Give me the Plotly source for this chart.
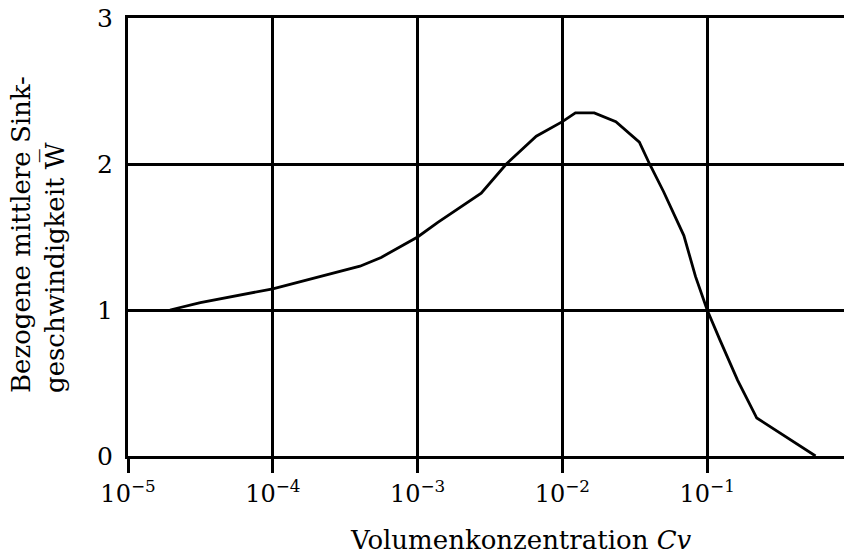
import plotly.graph_objects as go

# Volume concentration Cv and relative mean settling velocity W
cv = [1.95e-5, 3.16e-5, 1.0e-4, 2.75e-4, 4.0e-4, 5.6e-4, 1.0e-3, 1.38e-3, 2.75e-3,
      4.1e-3, 6.6e-3, 1.0e-2, 1.23e-2, 1.66e-2, 2.34e-2, 3.4e-2, 4.0e-2,
      5.0e-2, 6.9e-2, 8.3e-2, 0.1, 0.123, 0.162, 0.22, 0.32, 0.56]
w_rel = [1.0, 1.05, 1.145, 1.26, 1.30, 1.36, 1.5, 1.6, 1.8,
         2.0, 2.19, 2.29, 2.35, 2.35, 2.29, 2.15, 2.0,
         1.81, 1.51, 1.23, 1.0, 0.79, 0.52, 0.26, 0.157, 0.0]

x_tickvals = [1e-5, 1e-4, 1e-3, 1e-2, 1e-1]
x_ticktext = ["10<sup>\u22125</sup>", "10<sup>\u22124</sup>", "10<sup>\u22123</sup>",
              "10<sup>\u22122</sup>", "10<sup>\u22121</sup>"]
y_tickvals = [0, 1, 2, 3]
y_ticktext = ["0", "1", "2", "3"]

FONT = "DejaVu Serif"
W, H = 844, 555
ML, MT, MB, MR = 128, 18, 99, 0
decade_px = 144.8
x_right = -5 + (W - ML - MR) / decade_px

fig = go.Figure()
fig.add_trace(go.Scatter(
    x=cv, y=w_rel, mode="lines",
    line=dict(color="black", width=2.8),
    showlegend=False,
))

fig.update_layout(
    width=W, height=H,
    margin=dict(l=ML, r=MR, t=MT, b=MB),
    paper_bgcolor="white", plot_bgcolor="white",
    font=dict(family=FONT, color="black", size=24),
    xaxis=dict(
        type="log", range=[-5, x_right],
        tickvals=x_tickvals, ticktext=x_ticktext,
        showgrid=True, gridcolor="black", gridwidth=3,
        showline=True, linecolor="black", linewidth=3, mirror=True,
        ticks="outside", ticklen=14, tickwidth=3, tickcolor="black",
        tickfont=dict(family=FONT, size=24),
        zeroline=False,
    ),
    yaxis=dict(
        range=[0, 3],
        tickvals=y_tickvals, ticktext=y_ticktext,
        showgrid=True, gridcolor="black", gridwidth=3,
        showline=True, linecolor="black", linewidth=3, mirror=False,
        ticks="", ticklabelstandoff=7,
        tickfont=dict(family=FONT, size=25),
        zeroline=False,
    ),
)

plot_w = W - ML - MR
plot_h = H - MT - MB

# tick label for 10^0 sits at the right edge of the page
fig.add_annotation(
    x=(852 - ML) / plot_w, y=0, xref="paper", yref="paper",
    text="1", showarrow=False, xanchor="center", yanchor="top",
    yshift=-14, font=dict(family=FONT, size=24),
)

# x-axis title
fig.add_annotation(
    x=(521 - ML) / plot_w, y=(H - MB - 540) / plot_h, xref="paper", yref="paper",
    text="Volumenkonzentration <i>Cv</i>", showarrow=False,
    xanchor="center", yanchor="middle", font=dict(family=FONT, size=26),
)

# y-axis title (two lines, rotated)
fig.add_annotation(
    x=(38 - ML) / plot_w, y=(H - MB - 235) / plot_h, xref="paper", yref="paper",
    text="Bezogene mittlere Sink-<br>geschwindigkeit W\u0305", showarrow=False,
    textangle=-90, align="left", xanchor="center", yanchor="middle",
    font=dict(family=FONT, size=26),
)

fig.write_html("out.html")
